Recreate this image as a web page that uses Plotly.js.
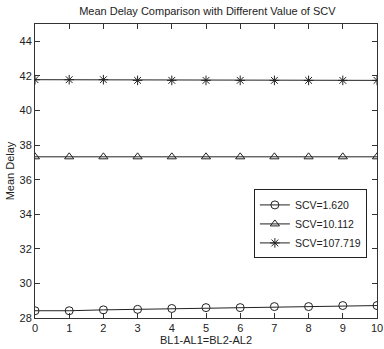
<!DOCTYPE html>
<html><head><meta charset="utf-8">
<script src="https://cdn.plot.ly/plotly-3.0.1.min.js"></script>
<style>html,body{margin:0;padding:0;background:#fff}#c{width:384px;height:349px}</style>
</head><body><div id="c"></div>
<script>
var xVals = [0,1,2,3,4,5,6,7,8,9,10];
var scv1 = [28.42,28.42,28.47,28.5,28.55,28.6,28.6,28.66,28.66,28.72,28.72];
var scv2 = [37.32,37.32,37.32,37.32,37.32,37.32,37.32,37.32,37.32,37.32,37.32];
var scv3 = [41.78,41.78,41.78,41.74,41.74,41.74,41.74,41.74,41.74,41.74,41.74];
var names = ['SCV=1.620','SCV=10.112','SCV=107.719'];
var xTicks = [0,1,2,3,4,5,6,7,8,9,10];
var yTicks = [28,30,32,34,36,38,40,42,44];

var lineCol = '#222';
function tr(y, name, sym) {
  return {x: xVals, y: y, name: name, type: 'scatter', mode: 'lines+markers',
    line: {color: lineCol, width: 1},
    marker: {symbol: sym, size: 8, color: lineCol, line: {color: lineCol, width: 1}}};
}
var data = [tr(scv1, names[0], 'circle-open'), tr(scv2, names[1], 'triangle-up-open'), tr(scv3, names[2], 'asterisk-open')];
var font = {family: 'Liberation Sans, Arial, sans-serif', size: 11, color: '#222'};
var layout = {
  width: 384, height: 349,
  margin: {l: 35, r: 7, t: 24, b: 31},
  paper_bgcolor: '#fff', plot_bgcolor: '#fff',
  font: font,
  showlegend: true,
  title: {text: 'Mean Delay Comparison with Different Value of SCV', font: {family: font.family, size: 11, color: '#222'}, x: 0.54, xanchor: 'center', y: 0.98, yanchor: 'top'},
  xaxis: {range: [0, 10], tickvals: xTicks, ticks: 'inside', ticklen: 5, tickcolor: '#333', mirror: 'ticks', showline: true, linecolor: '#333', linewidth: 1, showgrid: false, zeroline: false,
    ticklabeloverflow: 'allow',
    title: {text: 'BL1-AL1=BL2-AL2', font: font, standoff: 2}, tickfont: font},
  yaxis: {range: [28, 45], tickvals: yTicks, ticks: 'inside', ticklen: 5, tickcolor: '#333', mirror: 'ticks', showline: true, linecolor: '#333', linewidth: 1, showgrid: false, zeroline: false,
    title: {text: 'Mean Delay', font: font, standoff: 2}, tickfont: font},
  legend: {x: 0.64, y: 0.32, xanchor: 'left', yanchor: 'middle', bgcolor: '#fff', bordercolor: '#222', borderwidth: 1, font: {family: font.family, size: 10.5, color: '#222'}, tracegroupgap: 0, itemwidth: 30}
};
Plotly.newPlot('c', data, layout, {displayModeBar: false, staticPlot: true});
</script></body></html>
